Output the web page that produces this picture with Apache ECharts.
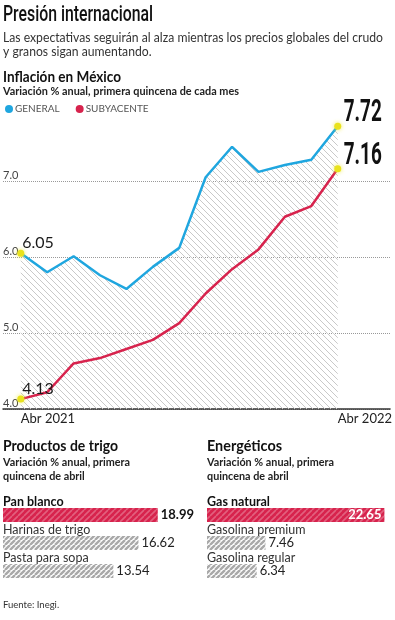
<!DOCTYPE html>
<html><head><meta charset="utf-8">
<script src="https://cdn.jsdelivr.net/npm/echarts@6/dist/echarts.min.js"></script>
<style>html,body{margin:0;padding:0;background:#fff}#c{width:395px;height:620px}</style>
</head><body><div id="c"></div>
<script>
// ---- data ----
const months = ['Abr 2021','May 2021','Jun 2021','Jul 2021','Ago 2021','Sep 2021','Oct 2021','Nov 2021','Dic 2021','Ene 2022','Feb 2022','Mar 2022','Abr 2022'];
const general = [6.05,5.80,6.01,5.76,5.58,5.87,6.12,7.05,7.45,7.12,7.21,7.28,7.72];
const subyacente = [4.13,4.22,4.60,4.67,4.79,4.91,5.13,5.52,5.84,6.10,6.53,6.67,7.16];
const seriesNames = ['GENERAL','SUBYACENTE'];
const trigoCats = ['Pan blanco','Harinas de trigo','Pasta para sopa'];
const trigoVals = [18.99,16.62,13.54];
const energCats = ['Gas natural','Gasolina premium','Gasolina regular'];
const energVals = [22.65,7.46,6.34];

// ---- styles ----
const BLUE = '#1fa6df', RED = '#d7234d', YEL = '#e9e21c';
const LATO = 'Lato, "Open Sans", sans-serif';
const COND = 'Roboto, "DejaVu Sans Condensed", sans-serif';

const mctx = document.createElement('canvas').getContext('2d');
function fitScale(text, font, w) { mctx.font = font; return w / mctx.measureText(text).width; }

function hatch(bg, fg, size, lw, dir) {
  const c = document.createElement('canvas'); c.width = size; c.height = size;
  const g = c.getContext('2d');
  if (bg) { g.fillStyle = bg; g.fillRect(0, 0, size, size); }
  g.strokeStyle = fg; g.lineWidth = lw; g.beginPath();
  for (let o = -size; o <= size; o += size) {
    if (dir > 0) { g.moveTo(o, 0); g.lineTo(o + size, size); }
    else { g.moveTo(o, size); g.lineTo(o + size, 0); }
  }
  g.stroke();
  return { image: c, repeat: 'repeat' };
}
const areaPat = hatch(null, '#c9c9c9', 6, 1, 1);
const redPat = hatch(RED, 'rgba(255,255,255,0.28)', 6, 1.6, -1);
const grayPat = hatch('#ffffff', '#a9a9a9', 5, 2.4, -1);

// line chart layout
const gridL = 3, gridW = 392, firstX = 21, lastX = 342;
const unit = (lastX - firstX) / (months.length - 1);
const xMin = -(firstX - gridL) / unit, xMax = xMin + gridW / unit;
const last = months.length - 1;
const isEnd = i => i === 0 || i === last;

function lineData(arr) {
  return arr.map((v, i) => ({
    value: [i, v],
    itemStyle: isEnd(i) ? { color: YEL, shadowBlur: 4, shadowColor: 'rgba(240,235,60,0.9)' } : undefined
  }));
}
const startLabel = {
  show: true, position: [5, 1], align: 'left', verticalAlign: 'bottom',
  fontSize: 16, fontFamily: LATO, color: '#1a1a1a',
  formatter: p => p.dataIndex === 0 ? p.value[1].toFixed(2) : ''
};

function barData(vals, hiInside) {
  return vals.map((v, i) => ({
    value: v,
    itemStyle: { color: i === 0 ? redPat : grayPat },
    label: i === 0
      ? (hiInside ? { position: 'insideRight', color: '#fff', fontWeight: 'bold', distance: 3 } : { fontWeight: 'bold', color: '#111' })
      : {}
  }));
}
function catAxis(idx, cats) {
  return {
    type: 'category', gridIndex: idx, inverse: true, data: cats,
    axisLine: { show: false }, axisTick: { show: false }, splitLine: { show: false },
    axisLabel: {
      inside: true, margin: 0, align: 'left', verticalAlign: 'bottom', padding: [0, 0, 7, 0],
      fontSize: 12.5, fontFamily: LATO, color: '#333',
      formatter: (v, i) => i === 0 ? '{b|' + v + '}' : v,
      rich: { b: { fontSize: 12.5, fontFamily: LATO, fontWeight: 'bold', color: '#111' } }
    }
  };
}
function valAxis(idx) {
  return { type: 'value', gridIndex: idx, min: 0, max: 24, show: false };
}
const barLabel = { show: true, position: 'right', distance: 3, fontSize: 13, fontFamily: LATO, color: '#222', formatter: p => p.value.toFixed(2) };

// text helpers
function txt(x, y, text, size, weight, family, fill, targetW, lh) {
  const font = (weight || 'normal') + ' ' + size + 'px ' + family;
  const firstLine = text.split('\n')[0];
  const s = targetW ? fitScale(firstLine, font, targetW) : 1;
  return {
    type: 'text', x: x, y: y, scaleX: s, silent: true,
    style: { text: text, fontSize: size, fontWeight: weight || 'normal', fontFamily: family, fill: fill, verticalAlign: 'top', lineHeight: lh || size }
  };
}
const subTxt = 'Variación % anual, primera\nquincena de abril';

const chart = echarts.init(document.getElementById('c'), null, { renderer: 'canvas' });
chart.setOption({
  animation: false,
  backgroundColor: '#fff',
  grid: [
    { left: gridL, width: gridW, top: 105, height: 304 },
    { left: 3, width: 195.6, top: 501, height: 84 },
    { left: 207, width: 195.6, top: 501, height: 84 }
  ],
  legend: {
    left: 0, top: 99, icon: 'circle', itemWidth: 8, itemHeight: 8, itemGap: 16,
    textStyle: { fontSize: 10, color: '#555', fontFamily: LATO, padding: [0, 0, 0, -3] },
    data: seriesNames, selectedMode: false
  },
  xAxis: [
    {
      type: 'value', gridIndex: 0, min: xMin, max: xMax,
      axisLine: { show: true, onZero: false, lineStyle: { color: '#333', width: 1.5 } },
      axisTick: { show: false }, splitLine: { show: false },
      axisLabel: {
        customValues: [0, last], formatter: v => months[v], align: 'left',
        fontSize: 13, fontFamily: LATO, color: '#222', margin: 3
      }
    },
    valAxis(1), valAxis(2)
  ],
  yAxis: [
    {
      type: 'value', gridIndex: 0, min: 4, max: 8, interval: 1,
      axisLine: { show: false }, axisTick: { show: false },
      splitLine: { show: true, lineStyle: { type: 'dotted', width: 1, color: ['#999', '#999', '#999', '#999', 'rgba(0,0,0,0)'] } },
      axisLabel: {
        inside: true, margin: 0, verticalAlign: 'bottom', showMaxLabel: false,
        fontSize: 11, fontFamily: LATO, color: '#444', formatter: v => v.toFixed(1)
      }
    },
    catAxis(1, trigoCats), catAxis(2, energCats)
  ],
  series: [
    {
      name: seriesNames[0], type: 'line', xAxisIndex: 0, yAxisIndex: 0,
      data: lineData(general), silent: true,
      lineStyle: { color: BLUE, width: 2.5 }, itemStyle: { color: BLUE },
      areaStyle: { color: areaPat, opacity: 1, origin: 'start' },
      symbol: 'circle', symbolSize: (v, p) => isEnd(p.dataIndex) ? 7 : 0, showSymbol: true,
      label: startLabel, z: 2
    },
    {
      name: seriesNames[1], type: 'line', xAxisIndex: 0, yAxisIndex: 0,
      data: lineData(subyacente), silent: true,
      lineStyle: { color: RED, width: 2.5 }, itemStyle: { color: RED },
      symbol: 'circle', symbolSize: (v, p) => isEnd(p.dataIndex) ? 7 : 0, showSymbol: true,
      label: startLabel, z: 3
    },
    { type: 'bar', xAxisIndex: 1, yAxisIndex: 1, barWidth: 14, silent: true, label: barLabel, data: barData(trigoVals, false) },
    { type: 'bar', xAxisIndex: 2, yAxisIndex: 2, barWidth: 14, silent: true, label: barLabel, data: barData(energVals, true) }
  ]
});

// end-value labels placed through the chart's own coordinate conversion
const endGen = chart.convertToPixel({ gridIndex: 0 }, [last, general[last]]);
const endSub = chart.convertToPixel({ gridIndex: 0 }, [last, subyacente[last]]);
function bigLabel(pt, v) {
  const t = v.toFixed(2);
  const font = 'bold 32px ' + COND;
  const s = fitScale(t, font, 38);
  return {
    type: 'text', x: pt[0] + 6, y: pt[1] - 13, scaleX: s, silent: true, z: 10,
    style: { text: t, fontSize: 32, fontWeight: 'bold', fontFamily: COND, fill: '#111', verticalAlign: 'middle' }
  };
}

chart.setOption({
  graphic: [
    txt(3, 4, 'Presión internacional', 22, '500', COND, '#111', 150),
    txt(3, 31, 'Las expectativas seguirán al alza mientras los precios globales del crudo\ny granos sigan aumentando.', 14, 'normal', LATO, '#333', 380, 13.5),
    txt(3, 70, 'Inflación en México', 14.5, 'bold', LATO, '#111', 118),
    txt(3, 86, 'Variación % anual, primera quincena de cada mes', 11.5, 'bold', LATO, '#222', 236),
    txt(3, 439, 'Productos de trigo', 14.5, 'bold', LATO, '#111', 115),
    txt(3, 455, subTxt, 12, 'bold', LATO, '#222', 127, 14),
    txt(207, 439, 'Energéticos', 14.5, 'bold', LATO, '#111', 75),
    txt(207, 455, subTxt, 12, 'bold', LATO, '#222', 127, 14),
    txt(3, 600, 'Fuente: Inegi.', 9.5, 'normal', LATO, '#333'),
    bigLabel(endGen, general[last]),
    bigLabel(endSub, subyacente[last])
  ]
});
</script></body></html>
